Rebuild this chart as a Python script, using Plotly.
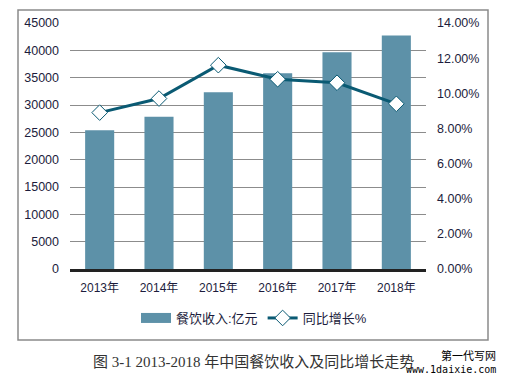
import plotly.graph_objects as go

categories = ["2013年", "2014年", "2015年", "2016年", "2017年", "2018年"]
revenue = [25392, 27860, 32310, 35799, 39644, 42716]
growth = [0.089, 0.097, 0.116, 0.108, 0.106, 0.094]
left_ticks = list(range(0, 45001, 5000))
right_ticks = [i * 0.02 for i in range(8)]

bar_color = "#5d91a8"
line_color = "#0a5a73"
text_color = "#1c1c3c"
font_family = "Liberation Sans, Arial, Noto Sans CJK SC, sans-serif"

# page body has an 8px margin; compensate so the drawing lands where the reference is
OFF = 8
PL, PR, PT, PB = 70 - OFF, 426 - OFF, 23 - OFF, 269 - OFF
W, H = 509 - 2 * OFF, 383 - 2 * OFF
PW, PH = PR - PL, PB - PT


def px(x):
    return (x - OFF - PL) / PW


def py(y):
    return (PB - (y - OFF)) / PH


fig = go.Figure()
fig.add_trace(go.Bar(
    x=categories, y=revenue, name="餐饮收入:亿元", showlegend=False,
    marker=dict(color=bar_color, line=dict(width=0)),
))
# legend entry for the bars drawn as a wide swatch, like the original
fig.add_trace(go.Scatter(
    x=[None], y=[None], name="餐饮收入:亿元", mode="lines",
    line=dict(color=bar_color, width=11),
))
fig.add_trace(go.Scatter(
    x=categories, y=growth, name="同比增长%", yaxis="y2",
    mode="lines+markers",
    line=dict(color=line_color, width=3),
    marker=dict(symbol="diamond", size=12, color="white",
                line=dict(color=line_color, width=1)),
))

fig.update_layout(
    width=W, height=H,
    margin=dict(l=PL, r=W - PR, t=PT, b=H - PB, autoexpand=False),
    paper_bgcolor="white", plot_bgcolor="white",
    font=dict(family=font_family, size=12, color=text_color),
    bargap=0.51,
    showlegend=True,
    legend=dict(orientation="h", x=px(254), xanchor="center", y=py(318), yanchor="middle",
                font=dict(size=13, color=text_color), itemwidth=30,
                traceorder="normal", bgcolor="rgba(0,0,0,0)"),
    xaxis=dict(showgrid=False, showline=True, linecolor="#222222", linewidth=2.5,
               ticks="", ticklabelstandoff=6, tickfont=dict(size=12)),
    yaxis=dict(range=[0, 45000], tickvals=left_ticks, tickformat="d", showgrid=True,
               gridcolor="#8c8c8c", gridwidth=1, zeroline=False,
               ticks="", ticklabelstandoff=10, tickfont=dict(size=12.5)),
    yaxis2=dict(range=[0, 0.14], tickvals=right_ticks, tickformat=".2%",
                overlaying="y", side="right", showgrid=False, zeroline=False,
                ticks="", ticklabelstandoff=10, tickfont=dict(size=12.5)),
    shapes=[dict(type="rect", xref="paper", yref="paper",
                 x0=px(18), x1=px(488), y0=py(340), y1=py(10),
                 line=dict(color="#8a8a8a", width=1.5), fillcolor="rgba(0,0,0,0)",
                 layer="below")],
    annotations=[
        dict(text="图 3-1 2013-2018 年中国餐饮收入及同比增长走势", xref="paper", yref="paper",
             x=px(253), y=py(362), xanchor="center", yanchor="middle",
             showarrow=False, font=dict(family="Liberation Serif, Noto Sans CJK SC, serif",
                                        size=15, color="#333333")),
        dict(text="第一代写网", xref="paper", yref="paper",
             x=px(498), y=py(355), xanchor="right", yanchor="middle",
             showarrow=False, font=dict(family="Noto Sans CJK SC", size=11, color="#000000")),
        dict(text="www.1daixie.com", xref="paper", yref="paper",
             x=px(498), y=py(369), xanchor="right", yanchor="middle",
             showarrow=False, font=dict(family="DejaVu Sans Mono", size=10, color="#000000")),
    ],
)

fig.write_html("out.html")
